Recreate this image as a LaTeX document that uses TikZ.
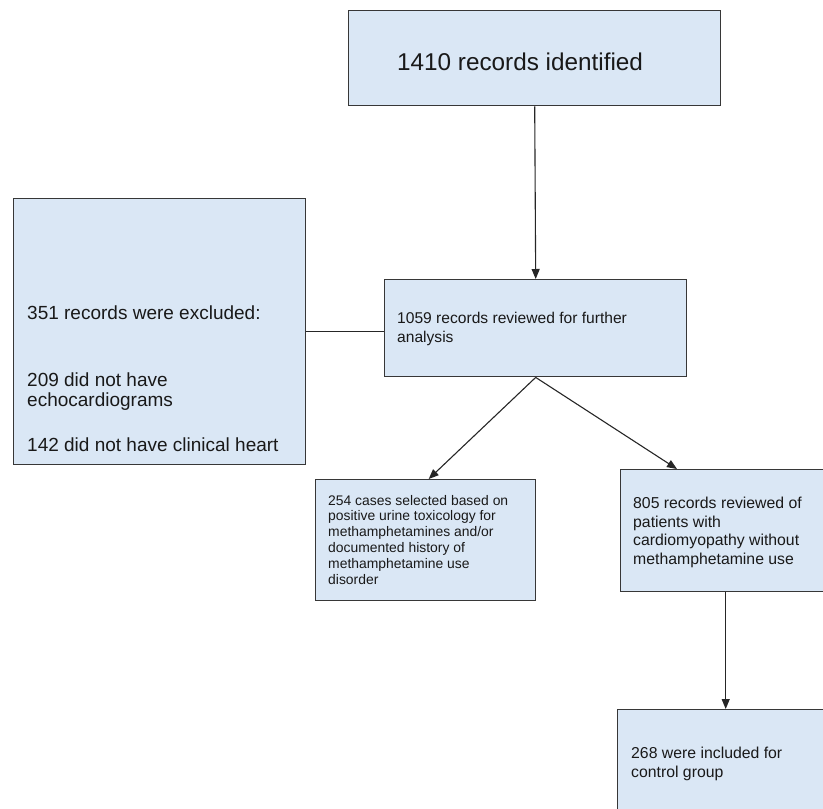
\documentclass[tikz,border=0pt]{standalone}
\usepackage{fontspec}
\setmainfont{Liberation Sans}
\usetikzlibrary{arrows.meta}
\definecolor{boxfill}{RGB}{218,231,245}
\definecolor{boxline}{RGB}{55,55,55}
\begin{document}
\begin{tikzpicture}[x=1pt,y=-1pt,
  box/.style={draw=boxline, fill=boxfill, line width=1.4pt, rectangle, inner sep=0pt, anchor=north west},
  txt/.style={anchor=base west, inner sep=0pt, align=left, text=black!90},
  conn/.style={line width=1.1pt, draw=black!85},
  arr/.style={conn, -{Triangle[length=10pt,width=8pt]}}]
\useasboundingbox (0,0) rectangle (823,809);
\clip (0,0) rectangle (823,809);
% boxes
\node[box, minimum width=372pt, minimum height=95pt] (top) at (348,10) {};
\node[box, minimum width=302pt, minimum height=97pt] (mid) at (384,279) {};
\node[box, minimum width=292pt, minimum height=266pt] (left) at (13,198) {};
\node[box, minimum width=220pt, minimum height=121pt] (bl) at (315,479) {};
\node[box, minimum width=210pt, minimum height=122pt] (right) at (620,469) {};
\node[box, minimum width=216pt, minimum height=130pt] (bottom) at (617,709) {};
% texts (base = baseline of the last line)
\node[txt, font=\fontsize{24.3}{28}\selectfont] (t1) at (397,70) {1410 records identified};
\node[txt, font=\fontsize{15.6}{19}\selectfont] (t2) at (397,342) {1059 records reviewed for further\\analysis};
\node[txt, font=\fontsize{19}{20}\selectfont] (t3a) at (27,319) {351 records were excluded:};
\node[txt, font=\fontsize{19}{20}\selectfont] (t3b) at (27,406) {209 did not have\\echocardiograms};
\node[txt, font=\fontsize{19}{20}\selectfont] (t3c) at (27,451) {142 did not have clinical heart};
\node[txt, font=\fontsize{13.9}{15.8}\selectfont] (t4) at (328,584) {254 cases selected based on\\positive urine toxicology for\\methamphetamines and/or\\documented history of\\methamphetamine use\\disorder};
\node[txt, font=\fontsize{15.8}{18.4}\selectfont] (t5) at (633,564) {805 records reviewed of\\patients with\\cardiomyopathy without\\methamphetamine use};
\node[txt, font=\fontsize{15.8}{19}\selectfont] (t6) at (631,777) {268 were included for\\control group};
% connectors
\draw[arr] (top.south) -- (mid.north);
\draw[conn] (left.east) -- (left.east -| mid.west);
\draw[arr] (mid.south) -- ([xshift=3pt]bl.north);
\draw[arr] (mid.south) -- ([xshift=57pt]right.north west);
\draw[arr] (right.south) -- (bottom.north);
\end{tikzpicture}
\end{document}
